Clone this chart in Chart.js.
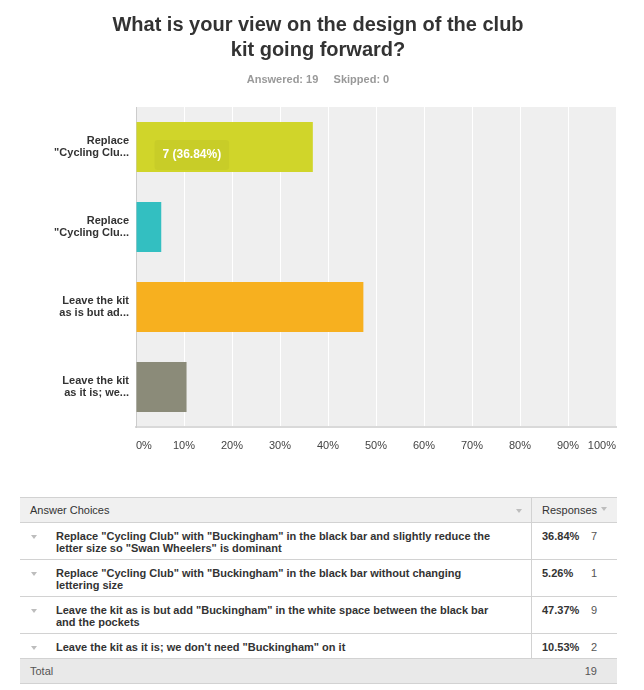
<!DOCTYPE html>
<html>
<head>
<meta charset="utf-8">
<script src="https://cdn.jsdelivr.net/npm/chart.js@4.4.1/dist/chart.umd.min.js"></script>
<style>
  body { margin: 0; background: #fff; font-family: "Liberation Sans", Arial, sans-serif; }
  #wrap { position: relative; width: 644px; height: 690px; }
  #chart { position: absolute; left: 0; top: 0; }
  table { position: absolute; left: 20px; top: 497px; width: 597px; border-collapse: collapse;
          font-size: 11px; line-height: 12px; color: #333; border-top: 1px solid #d2d2d2; }
  td, th { padding: 6px 0; vertical-align: top; text-align: left; }
  th { font-weight: normal; background: #f0f0f0; height: 12px; border-bottom: 1px solid #d2d2d2; }
  tr.row td { border-bottom: 1px solid #d2d2d2; padding-top: 7px; padding-bottom: 5px; }
  .c1 { position: relative; border-right: 1px solid #d2d2d2; }
  .c2 { position: relative; }
  th.c1 { padding-left: 10px; width: 501px; }
  th.c2 { padding-left: 10px; }
  td.c1 { padding-left: 36px; padding-right: 31px; width: 444px; font-weight: bold; }
  td.c2 { padding-left: 10px; font-weight: bold; }
  .cnt { position: absolute; right: 20px; top: 7px; font-weight: normal; color: #555; }
  .tri { position: absolute; width: 0; height: 0; border-left: 3.5px solid transparent;
         border-right: 3.5px solid transparent; border-top: 4px solid #bdbdbd; }
  td .tri { left: 11px; top: 12px; }
  th.c1 .tri { right: 9px; top: 11px; }
  .hsort { display: inline-block; position: relative; width: 12px; height: 10px; }
  .hsort .tri { left: 4px; top: 3px; }
  tr.total td { background: #e9e9e9; font-weight: normal; color: #555; padding-left: 10px;
                border-bottom: 1px solid #d2d2d2; }
  tr.total td.c1 { border-right: none; }
  tr.total .cnt { top: 6px; }
</style>
</head>
<body>
<div id="wrap">
  <canvas id="chart" width="636" height="470"></canvas>
  <table id="tbl"></table>
</div>
<script>
const titleLines = ['What is your view on the design of the club', 'kit going forward?'];
const answered = 19;
const skipped = 0;
const axisLabels = [
  ['Replace', '"Cycling Clu...'],
  ['Replace', '"Cycling Clu...'],
  ['Leave the kit', 'as is but ad...'],
  ['Leave the kit', 'as it is; we...']
];
const answerChoices = [
  'Replace "Cycling Club" with "Buckingham" in the black bar and slightly reduce the letter size so "Swan Wheelers" is dominant',
  'Replace "Cycling Club" with "Buckingham" in the black bar without changing lettering size',
  'Leave the kit as is but add "Buckingham" in the white space between the black bar and the pockets',
  'Leave the kit as it is; we don\'t need "Buckingham" on it'
];
const percents = [36.84, 5.26, 47.37, 10.53];
const counts = [7, 1, 9, 2];
const barColors = ['#d0d52a', '#33bfc1', '#f7b01f', '#8b8b79'];
const xTicks = [0, 10, 20, 30, 40, 50, 60, 70, 80, 90, 100];

const FONT = '"Liberation Sans", Arial, sans-serif';

// grey plot background behind the grid
const plotBg = {
  id: 'plotBg',
  beforeDraw(chart) {
    const { ctx, chartArea: a } = chart;
    ctx.save();
    ctx.fillStyle = '#efefef';
    ctx.fillRect(a.left, a.top, a.right - a.left, a.bottom - a.top);
    ctx.restore();
  }
};

// x tick labels: first one left aligned, last one right aligned
const xLabels = {
  id: 'xLabels',
  afterDraw(chart) {
    const { ctx, chartArea: a } = chart;
    const scale = chart.scales.x;
    ctx.save();
    ctx.font = '11px ' + FONT;
    ctx.fillStyle = '#444';
    ctx.textBaseline = 'middle';
    xTicks.forEach((v, i) => {
      ctx.textAlign = i === 0 ? 'left' : (i === xTicks.length - 1 ? 'right' : 'center');
      ctx.fillText(v + '%', scale.getPixelForValue(v), a.bottom + 19);
    });
    ctx.restore();
  }
};

// the hover label shown on the first bar
const barBadge = {
  id: 'barBadge',
  afterDatasetsDraw(chart) {
    const { ctx } = chart;
    const el = chart.getDatasetMeta(0).data[0];
    const text = counts[0] + ' (' + percents[0].toFixed(2) + '%)';
    ctx.save();
    ctx.font = 'bold 12px ' + FONT;
    const w = ctx.measureText(text).width + 16;
    const x = el.base + 18, y = el.y + 8;
    ctx.fillStyle = 'rgba(0,0,0,0.035)';
    ctx.beginPath();
    ctx.roundRect(x, y - 15, w, 30, 3);
    ctx.fill();
    ctx.fillStyle = '#fff';
    ctx.textBaseline = 'middle';
    ctx.fillText(text, x + 8, y);
    ctx.restore();
  }
};

new Chart(document.getElementById('chart'), {
  type: 'bar',
  data: {
    labels: axisLabels,
    datasets: [{
      data: percents,
      backgroundColor: barColors,
      barPercentage: 0.625,
      categoryPercentage: 1
    }]
  },
  options: {
    indexAxis: 'y',
    responsive: false,
    animation: false,
    layout: { padding: { left: 20, right: 20, top: 0, bottom: 0 } },
    plugins: {
      legend: { display: false },
      tooltip: { enabled: false },
      title: {
        display: true,
        text: titleLines,
        color: '#333',
        font: { family: FONT, size: 20, weight: 'bold', lineHeight: 1.25 },
        padding: { top: 12.5, bottom: 10.9 }
      },
      subtitle: {
        display: true,
        text: 'Answered: ' + answered + '     Skipped: ' + skipped,
        color: '#999',
        font: { family: FONT, size: 11, weight: 'bold', lineHeight: 1.2 },
        padding: { top: 0, bottom: 20.4 }
      }
    },
    scales: {
      x: {
        min: 0,
        max: 100,
        ticks: { stepSize: 10, display: false },
        grid: {
          color: (c) => c.index === 0 ? 'transparent' : '#ffffff',
          drawTicks: false
        },
        border: { color: '#d9d9d9', width: 2 },
        afterFit(scale) { scale.height = 43; }
      },
      y: {
        grid: { display: false, drawTicks: false },
        border: { color: '#cccccc', width: 1 },
        ticks: {
          color: '#333',
          padding: 7,
          font: { family: FONT, size: 11, weight: 'bold', lineHeight: 1.1 }
        },
        afterFit(scale) { scale.width = 116; }
      }
    }
  },
  plugins: [plotBg, xLabels, barBadge]
});

// response table under the chart
const tbl = document.getElementById('tbl');
let html = '<tr><th class="c1">Answer Choices<span class="tri"></span></th>' +
  '<th class="c2">Responses<span class="hsort"><span class="tri"></span></span></th></tr>';
answerChoices.forEach((txt, i) => {
  const safe = txt.replace(/"/g, '&quot;');
  html += '<tr class="row"><td class="c1"><span class="tri"></span>' + safe + '</td>' +
    '<td class="c2">' + percents[i].toFixed(2) + '%<span class="cnt">' + counts[i] + '</span></td></tr>';
});
html += '<tr class="total"><td class="c1">Total</td><td class="c2"><span class="cnt">' + answered + '</span></td></tr>';
tbl.innerHTML = html;
</script>
</body>
</html>
